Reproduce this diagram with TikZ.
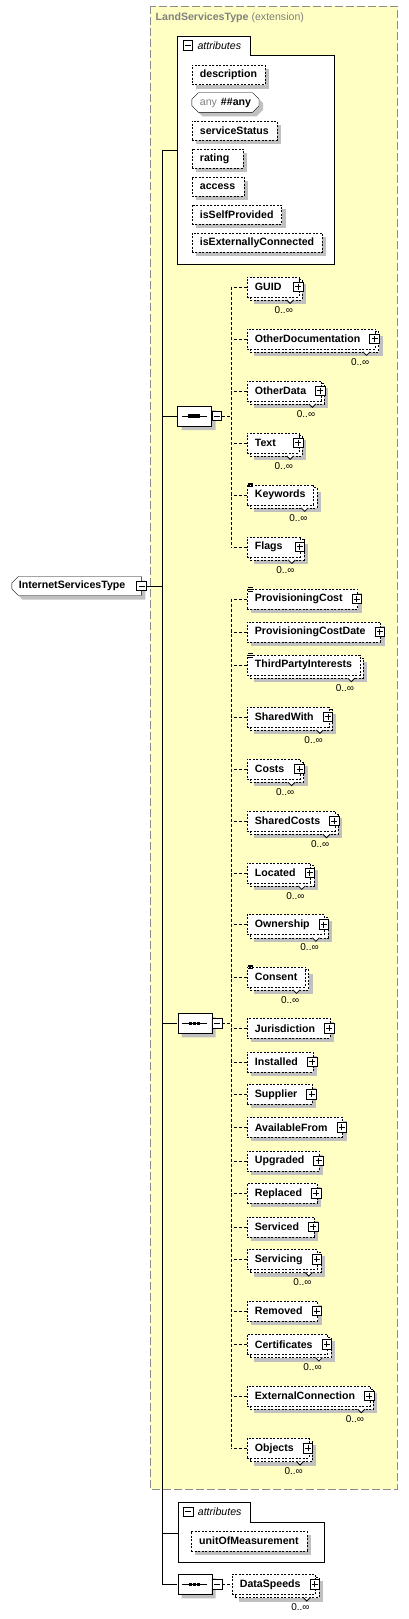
\documentclass[tikz,border=0pt]{standalone}
\usepackage{fontspec}
\setmainfont{Liberation Sans}
\usetikzlibrary{shapes.misc,shadows}

\definecolor{extfill}{RGB}{255,255,196}
\definecolor{extline}{RGB}{140,140,140}
\definecolor{shadecol}{RGB}{192,192,192}
\definecolor{titlecol}{RGB}{128,128,128}

\pgfdeclarelayer{bgfill}
\pgfdeclarelayer{shade}
\pgfdeclarelayer{back}
\pgfsetlayers{bgfill,shade,back,main}

\newcommand\elfont{\fontsize{10.6}{12}\selectfont\bfseries}
\newcommand\occfont{\fontsize{10}{12}\selectfont}
\newcommand\plusgap[1][7]{\hspace*{#1pt}}

\tikzset{
  dotline/.style={dash pattern=on 2pt off 1.5pt},
  seqline/.style={dash pattern=on 3pt off 2pt},
  onebox/.style={drop shadow={shadow xshift=4pt,shadow yshift=-4pt,fill=shadecol,opacity=1}},
  manybox/.style={},
  elem/.style={draw,dotline,fill=white,font=\elfont,inner xsep=8pt,inner ysep=0pt,
    minimum height=20pt,anchor=west},
  attr/.style={elem,onebox,minimum height=19.6pt},
  anybox/.style={chamfered rectangle,chamfered rectangle xsep=3pt,draw,solid,fill=white,
    font=\elfont,inner xsep=5pt,inner ysep=0pt,minimum height=19.6pt,anchor=west,onebox},
  rootbox/.style={chamfered rectangle,chamfered rectangle corners={north west,south west},
    chamfered rectangle xsep=3pt,draw,solid,fill=white,font=\elfont,inner xsep=4pt,
    inner ysep=0pt,minimum height=19pt,anchor=west,onebox},
  backbox/.style={draw,dotline,fill=white},
  sqbox/.style={draw,solid,fill=white,minimum size=9.6pt,inner sep=0pt,line width=0.8pt},
  plusbox/.style={sqbox,path picture={
    \draw ([xshift=1.8pt]path picture bounding box.west) -- ([xshift=-1.8pt]path picture bounding box.east)
      ([yshift=-1.8pt]path picture bounding box.north) -- ([yshift=1.8pt]path picture bounding box.south);}},
  minusbox/.style={sqbox,path picture={
    \draw ([xshift=1.8pt]path picture bounding box.west) -- ([xshift=-1.8pt]path picture bounding box.east);}},
  seqbox/.style={chamfered rectangle,chamfered rectangle xsep=5pt,draw,solid,fill=white,
    minimum width=34pt,minimum height=20pt,inner sep=0pt,onebox,
    path picture={
      \draw[line width=0.8pt] ([xshift=-12.5pt]path picture bounding box.center) -- ([xshift=12.5pt]path picture bounding box.center);
      \foreach \d in {-4.5,-0.5,3.5}
        \fill[black] ([xshift=\d pt]path picture bounding box.center) ++(-1.6,-1.6) rectangle ++(3.2,3.2);}},
  tabtext/.style={anchor=west,inner sep=0pt,font=\fontsize{10.6}{12}\selectfont\itshape},
  notch/.style={draw,solid,fill=white,line width=0.8pt},
  occ/.style={anchor=north east,inner sep=0pt,font=\occfont}
}

\begin{document}
\begin{tikzpicture}[x=1pt,y=-1pt,line width=0.9pt]
\useasboundingbox (0,0) rectangle (408,1619);

% extension frame
\begin{pgfonlayer}{bgfill}
  \draw[extline,fill=extfill,dash pattern=on 8pt off 3pt] (150,6) rectangle (397,1489);
\end{pgfonlayer}
\node[anchor=west,inner sep=0pt,font=\elfont,text=titlecol] (exttitle) at (155.5,18) {LandServicesType {\mdseries(extension)}};

% attributes of the base type
\node[anchor=north west,minimum width=156,minimum height=208,inner sep=0pt] (attA) at (177.3,55.3) {};
\node[anchor=south west,minimum width=72,minimum height=19,inner sep=0pt] (attAtab) at (attA.north west) {};
\begin{pgfonlayer}{bgfill}
  \draw[fill=white] (attA.south west) -- (attAtab.north west) -- (attAtab.north east)
    -- (attAtab.south east) -- (attA.north east) -- (attA.south east) -- cycle;
\end{pgfonlayer}
\node[minusbox,anchor=west] (attAtab-m) at ([xshift=5.4pt]attAtab.west) {};
\node[tabtext] (attAtab-t) at ([xshift=20pt]attAtab.west) {attributes};
\foreach \n/\y/\lbl in {description/74.7/description,serviceStatus/130.5/serviceStatus,
  rating/158.5/rating\plusgap[6],access/186.5/access\plusgap[1],
  isSelfProvided/214.5/isSelfProvided,isExternallyConnected/242.5/isExternallyConnected}
  \node[attr] (\n) at (191.7,\y) {\lbl};
\node[anybox] (anyattr) at (191.7,102.5) {{\mdseries\color{titlecol}any}\hspace{4pt}\#\#any};

% root
\node[rootbox] (root) at (11.7,586) {InternetServicesType\plusgap[9]};
\node[minusbox] (root-m) at (root.east) {};

% first sequence
\node[seqbox] (seqA) at (194.5,416) {};
\node[minusbox,anchor=west] (seqA-m) at (seqA.east) {};
\foreach \n/\y/\s/\lbl in {
  GUID/286.7/manybox/GUID\plusgap[9.5],
  OtherDocumentation/338.7/manybox/OtherDocumentation\plusgap,
  OtherData/390.7/manybox/OtherData\plusgap,
  Text/442.7/manybox/Text\plusgap[15],
  Keywords/494.7/manybox/Keywords,
  Flags/546.7/manybox/Flags\plusgap[10]}
  \node[elem,\s] (\n) at (246.7,\y) {\lbl};

% second sequence
\node[seqbox] (seqB) at (194.7,1023.3) {};
\node[minusbox,anchor=west] (seqB-m) at (seqB.east) {};
\foreach \n/\y/\s/\lbl in {
  ProvisioningCost/599/onebox/ProvisioningCost\plusgap,
  ProvisioningCostDate/631.7/onebox/ProvisioningCostDate\plusgap,
  ThirdPartyInterests/665/manybox/ThirdPartyInterests,
  SharedWith/716.7/manybox/SharedWith\plusgap,
  Costs/769/manybox/Costs\plusgap[8],
  SharedCosts/821/manybox/SharedCosts\plusgap,
  Located/872.7/manybox/Located\plusgap,
  Ownership/924.5/manybox/Ownership\plusgap,
  Consent/976.7/manybox/Consent,
  Jurisdiction/1028.3/onebox/Jurisdiction\plusgap,
  Installed/1061.7/onebox/Installed\plusgap,
  Supplier/1094.3/onebox/Supplier\plusgap,
  AvailableFrom/1127.3/onebox/AvailableFrom\plusgap,
  Upgraded/1160.7/onebox/Upgraded\plusgap,
  Replaced/1193.3/onebox/Replaced\plusgap,
  Serviced/1226.7/onebox/Serviced\plusgap,
  Servicing/1259.3/manybox/Servicing\plusgap,
  Removed/1311/onebox/Removed\plusgap,
  Certificates/1344.3/manybox/Certificates\plusgap,
  ExternalConnection/1396/manybox/ExternalConnection\plusgap,
  Objects/1448.3/manybox/Objects\plusgap}
  \node[elem,\s] (\n) at (246.7,\y) {\lbl};

% own attributes
\node[anchor=north west,minimum width=145.6,minimum height=39.6,inner sep=0pt] (attB) at (177.7,1521.7) {};
\node[anchor=south west,minimum width=71.6,minimum height=19.4,inner sep=0pt] (attBtab) at (attB.north west) {};
\begin{pgfonlayer}{bgfill}
  \draw[fill=white] (attB.south west) -- (attBtab.north west) -- (attBtab.north east)
    -- (attBtab.south east) -- (attB.north east) -- (attB.south east) -- cycle;
\end{pgfonlayer}
\node[minusbox,anchor=west] (attBtab-m) at ([xshift=5.4pt]attBtab.west) {};
\node[tabtext] (attBtab-t) at ([xshift=20pt]attBtab.west) {attributes};
\node[attr] (unitOfMeasurement) at (191,1540.9) {unitOfMeasurement};

% third sequence
\node[seqbox] (seqC) at (194.7,1584.3) {};
\node[minusbox,anchor=west] (seqC-m) at (seqC.east) {};
\node[elem,manybox] (DataSpeeds) at (231.7,1584.3) {DataSpeeds\plusgap};

% stacked boxes and occurrences
\foreach \n in {GUID,OtherDocumentation,OtherData,Text,Keywords,Flags,ThirdPartyInterests,
  SharedWith,Costs,SharedCosts,Located,Ownership,Consent,Servicing,Certificates,
  ExternalConnection,Objects,DataSpeeds}{
  \begin{pgfonlayer}{back}
    \draw[backbox] ([shift={(3,3)}]\n.north west) rectangle ([shift={(3,3)}]\n.south east);
  \end{pgfonlayer}
  \begin{pgfonlayer}{shade}
    \fill[shadecol] ([shift={(7,7)}]\n.north west) rectangle ([shift={(7,7)}]\n.south east);
  \end{pgfonlayer}
  \draw[notch] ([shift={(-12.5,3)}]\n.south east) -- ++(3.5,3.5) -- ++(3.5,-3.5);
  \node[occ] (\n-occ) at ([shift={(-6,9)}]\n.south east) {0..∞};
}

% expand buttons
\foreach \n in {GUID,OtherDocumentation,OtherData,Text,Flags,ProvisioningCost,
  ProvisioningCostDate,SharedWith,Costs,SharedCosts,Located,Ownership,Jurisdiction,
  Installed,Supplier,AvailableFrom,Upgraded,Replaced,Serviced,Servicing,Removed,
  Certificates,ExternalConnection,Objects,DataSpeeds}
  \node[plusbox] (\n-p) at ([xshift=-1pt]\n.east) {};

% simple content marks
\foreach \n in {Keywords,ProvisioningCost,ThirdPartyInterests,Consent}
  \draw[line width=0.7pt] ([shift={(1.5,-1.5)}]\n.north west) -- ++(5,0)
    ++(-5,1.8) -- ++(5,0) ++(-5,1.8) -- ++(5,0);

% connectors
\coordinate (trunk) at (162.3,150.3);
\coordinate (spA) at (231.3,0);
\coordinate (spB) at (231.3,0);
\coordinate (attBc) at ([yshift=9pt]attB.west);
\draw (trunk) -- (trunk |- seqC);
\draw (trunk) -- (trunk -| attA.west);
\draw (root-m) -- (root-m -| trunk);
\draw (seqA) -- (seqA -| trunk);
\draw (seqB) -- (seqB -| trunk);
\draw (attBc) -- (attBc -| trunk);
\draw (seqC) -- (seqC -| trunk);

\draw[seqline] (seqA-m) -- (seqA-m -| spA);
\draw[seqline] (spA |- GUID) -- (spA |- Flags);
\foreach \n in {GUID,OtherDocumentation,OtherData,Text,Keywords,Flags}
  \draw[seqline] (\n) -- (\n -| spA);

\draw[seqline] (seqB-m) -- (seqB-m -| spB);
\draw[seqline] (spB |- ProvisioningCost) -- (spB |- Objects);
\foreach \n in {ProvisioningCost,ProvisioningCostDate,ThirdPartyInterests,SharedWith,Costs,
  SharedCosts,Located,Ownership,Consent,Jurisdiction,Installed,Supplier,AvailableFrom,
  Upgraded,Replaced,Serviced,Servicing,Removed,Certificates,ExternalConnection,Objects}
  \draw[seqline] (\n) -- (\n -| spB);

\draw[seqline] (seqC-m) -- (DataSpeeds);
\end{tikzpicture}
\end{document}
